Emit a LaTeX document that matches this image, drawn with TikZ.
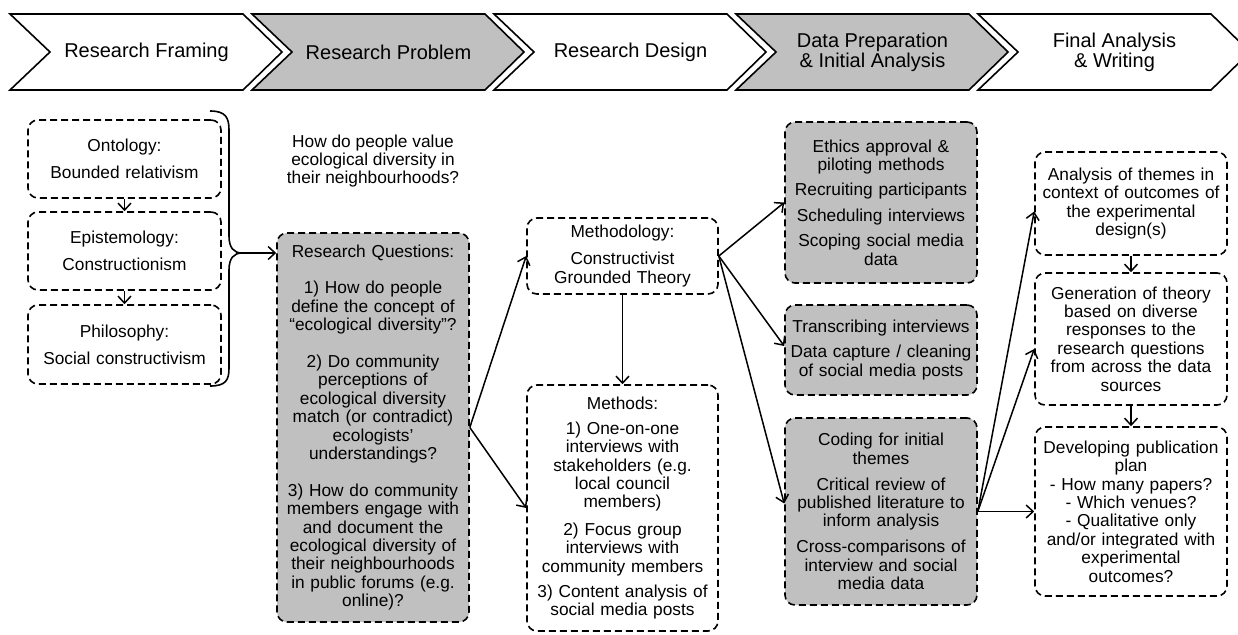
\documentclass[tikz,border=0pt]{standalone}
\usepackage{fontspec}
\setmainfont{Liberation Sans}
\usetikzlibrary{arrows.meta}
\definecolor{boxgray}{RGB}{192,192,192}
\newcommand\mychev[2]{\draw[chev,fill=#2] (#1,14) -- ++(233,0) -- ++(39,38) -- ++(-39,38) -- ++(-233,0) -- ++(40,-38) -- cycle;}
\tikzset{
  chev/.style={draw=black, line width=1.6pt, line join=miter},
  htext/.style={align=center, inner sep=0pt, font=\fontsize{20}{20}\selectfont},
  bx/.style={draw=black, line width=1.6pt, dash pattern=on 7pt off 4pt, rounded corners=10pt,
    align=center, inner sep=0pt, text width=186pt, font=\fontsize{17.3}{18.4}\selectfont},
  grayfill/.style={fill=boxgray},
  conn/.style={line width=1.5pt, -{Straight Barb[length=7pt,width=13pt]}},
  brace/.style={line width=1.6pt},
  plain/.style={align=center, inner sep=0pt, font=\fontsize{17.3}{18.4}\selectfont}
}
\begin{document}
\begin{tikzpicture}[x=1pt,y=-1pt]
\path[use as bounding box] (0,0) rectangle (1238,634);
% header chevrons
\mychev{10}{white}
\mychev{252}{boxgray}
\mychev{494}{white}
\mychev{736}{boxgray}
\mychev{978}{white}
\node[htext] (h1) at (146.5,52) {Research Framing};
\node[htext] (h2) at (388.5,52) {Research Problem};
\node[htext] (h3) at (630.5,52) {Research Design};
\node[htext] (h4) at (872.5,52) {Data Preparation\\\& Initial Analysis};
\node[htext] (h5) at (1114.5,52) {Final Analysis\\\& Writing};

% left column
\node[bx, minimum width=193pt, minimum height=78pt] (onto) at (124.5,159) {Ontology:\\[8.6pt]Bounded relativism};
\node[bx, minimum width=193pt, minimum height=78pt] (epis) at (124.5,251) {Epistemology:\\[8.6pt]Constructionism};
\node[bx, minimum width=193pt, minimum height=79pt] (phil) at (124.5,344.5) {Philosophy:\\[8.6pt]Social constructivism};
\draw[conn] (onto) -- (epis);
\draw[conn] (epis) -- (phil);

% brace
\coordinate (btip) at (242,253);
\draw[brace] (210,111) .. controls (226,111) and (229,118) .. (229,130) -- (229,236)
  .. controls (229,248) and (234,253) .. (btip)
  .. controls (234,253) and (229,258) .. (229,270) -- (229,368)
  .. controls (229,380) and (226,386) .. (210,386);

% research problem
\node[plain] (q) at (373,161) {How do people value\\ecological diversity in\\their neighbourhoods?};
\node[bx, grayfill, minimum width=192pt, minimum height=389pt] (rq) at (373,427.5) {Research Questions:\\[18.4pt]1) How do people\\define the concept of\\“ecological diversity”?\\[18.4pt]2) Do community\\perceptions of\\ecological diversity\\match (or contradict)\\ecologists’\\understandings?\\[18.4pt]3) How do community\\members engage with\\and document the\\ecological diversity of\\their neighbourhoods\\in public forums (e.g.\\online)?};
\draw[conn] (btip) -- (btip -| rq.west);

% research design
\node[bx, minimum width=191pt, minimum height=76pt] (mgy) at (622.5,256) {Methodology:\\[8.6pt]Constructivist\\Grounded Theory};
\node[bx, minimum width=191pt, minimum height=246pt] (mth) at (622.5,508) {Methods:\\[6.6pt]1) One-on-one\\interviews with\\stakeholders (e.g.\\local council\\members)\\[9pt]2) Focus group\\interviews with\\community members\\[6.6pt]3) Content analysis of\\social media posts};
\draw[conn] (rq.east) -- (mgy.west);
\draw[conn] (rq.east) -- (mth.west);
\draw[conn] (mgy.south) -- (mth.north);

% data preparation
\node[bx, grayfill, minimum width=192pt, minimum height=161pt] (d1) at (881,202.5) {Ethics approval \&\\piloting methods\\[7pt]Recruiting participants\\[7pt]Scheduling interviews\\[7pt]Scoping social media\\data};
\node[bx, grayfill, minimum width=192pt, minimum height=90pt] (d2) at (881,350) {Transcribing interviews\\[6.6pt]Data capture / cleaning\\of social media posts};
\node[bx, grayfill, minimum width=192pt, minimum height=187pt] (d3) at (881,511.5) {Coding for initial\\themes\\[7.6pt]Critical review of\\published literature to\\inform analysis\\[7.6pt]Cross-comparisons of\\interview and social\\media data};
\draw[conn] (mgy.east) -- (d1.west);
\draw[conn] (mgy.east) -- ([yshift=4pt]d2.west);
\draw[conn] (mgy.east) -- ([yshift=8pt]d3.west);

% final analysis
\node[bx, minimum width=192pt, minimum height=103pt] (f1) at (1131,203.5) {Analysis of themes in\\context of outcomes of\\the experimental\\design(s)};
\node[bx, minimum width=192pt, minimum height=132pt] (f2) at (1131,339) {Generation of theory\\based on diverse\\responses to the\\research questions\\from across the data\\sources};
\node[bx, minimum width=192pt, minimum height=169pt] (f3) at (1131,511.5) {Developing publication\\plan\\- How many papers?\\- Which venues?\\- Qualitative only\\and/or integrated with\\experimental\\outcomes?};
\draw[conn] (d3.east) -- ([yshift=-8pt]f1.west);
\draw[conn] (d3.east) -- ([yshift=-10pt]f2.west);
\draw[conn] (d3.east) -- (f3.west);
\draw[conn] (f1) -- (f2);
\draw[conn] (f2) -- (f3);
\end{tikzpicture}
\end{document}
